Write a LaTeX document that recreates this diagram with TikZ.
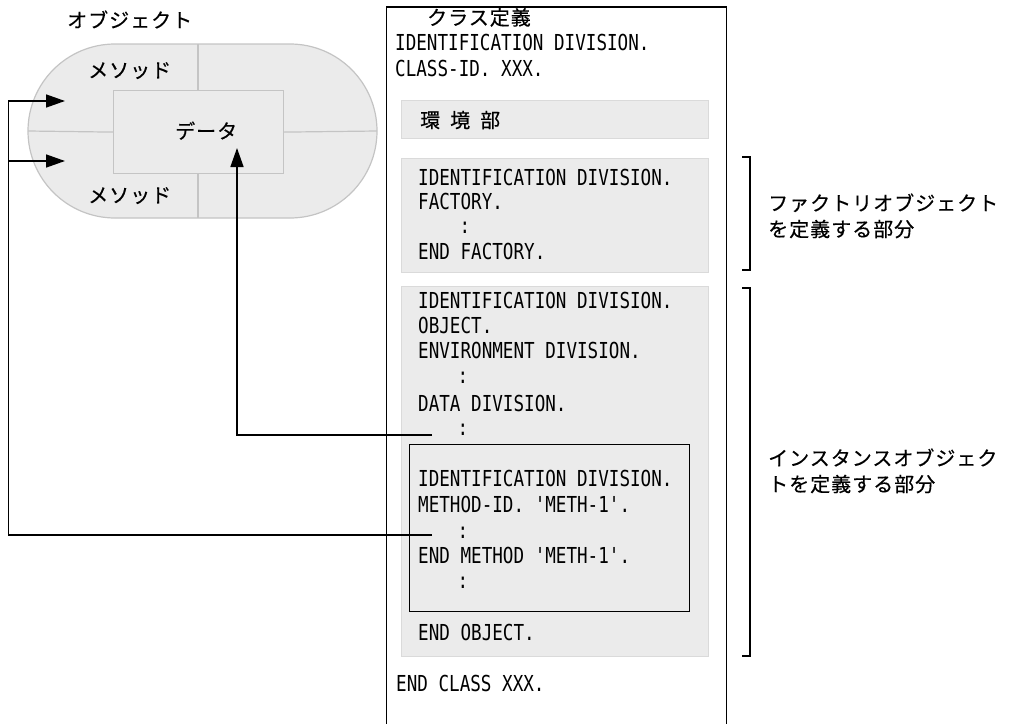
\documentclass[tikz,border=0pt]{standalone}
\usepackage{fontspec}
\usetikzlibrary{arrows.meta}
\newfontfamily\jpfont[LetterSpace=5,FakeBold=0.4]{Noto Sans CJK JP}
\newfontfamily\cobolfont[FakeStretch=0.80]{DejaVu Sans Mono}
\definecolor{shapefill}{HTML}{EBEBEB}
\definecolor{shapeline}{HTML}{C4C4C4}
\definecolor{boxline}{HTML}{DADADA}
\tikzset{
  jp/.style={font=\jpfont\fontsize{20}{23}\selectfont, inner sep=0pt, anchor=base west},
  cb/.style={font=\cobolfont\fontsize{22}{26}\selectfont, inner sep=0pt, anchor=base west},
  colon/.style={font=\cobolfont\fontsize{22}{26}\selectfont, inner sep=0pt, anchor=base},
  objpart/.style={draw=shapeline, fill=shapefill, line width=1.2pt},
  graybox/.style={draw=boxline, fill=shapefill, line width=1.2pt, inner sep=0pt, anchor=north west},
  conn/.style={draw=black, line width=1.5pt},
  arr/.style={conn, -{Triangle[length=19pt,width=13pt]}},
  bracket/.style={draw=black, line width=1.5pt},
}
\begin{document}
\begin{tikzpicture}[x=1pt,y=-1pt]
\useasboundingbox (0,0) rectangle (1012,723);
% ---------- object (left) ----------
\node[jp] (objlabel) at (67,27.6) {オブジェクト};
\draw[objpart, rounded corners=87pt] (28,44) rectangle (377,218);
\node[graybox, draw=shapeline, minimum width=170pt, minimum height=83pt] (data) at (113,90) {};
\draw[objpart] (28,131) -- (data.west);
\draw[objpart] (data.east) -- (377,131);
\draw[objpart] (198,44) -- (198,90);
\draw[objpart] (198,173) -- (198,218);
\node[jp] (meth1) at (88,77.6) {メソッド};
\node[jp] (meth2) at (88,202.6) {メソッド};
\node[jp] (datalabel) at (175,138.6) {データ};
% ---------- class definition ----------
\draw[line width=1.4pt] (386.5,730) -- (386.5,7) -- (726.5,7) -- (726.5,730);
\node[jp] (clsdef) at (427,25) {クラス定義};
\node[cb] (c1) at (395,50) {IDENTIFICATION DIVISION.};
\node[cb] (c2) at (395,76) {CLASS-ID. XXX.};
% environment
\node[graybox, minimum width=307pt, minimum height=38pt] (env) at (401,100) {};
\node[jp] (envlabel) at (420,127.6) {環\hspace{10pt}境\hspace{10pt}部};
% factory
\node[graybox, minimum width=307pt, minimum height=114pt] (factory) at (401,158) {};
\node[cb] (f1) at (418,185) {IDENTIFICATION DIVISION.};
\node[cb] (f2) at (418,209) {FACTORY.};
\node[colon] (f3) at (465,233) {:};
\node[cb] (f4) at (418,259.5) {END FACTORY.};
% object
\node[graybox, minimum width=307pt, minimum height=370pt] (object) at (401,286) {};
\node[cb] (o1) at (418,308) {IDENTIFICATION DIVISION.};
\node[cb] (o2) at (418,333) {OBJECT.};
\node[cb] (o3) at (418,358) {ENVIRONMENT DIVISION.};
\node[colon] (o4) at (463,383.5) {:};
\node[cb] (o5) at (418,411) {DATA DIVISION.};
\node[colon] (o6) at (463,435.5) {:};
% method (inner box)
\node[draw=black, line width=1.4pt, inner sep=0pt, anchor=north west, minimum width=280pt, minimum height=167pt] (method) at (409,444) {};
\node[cb] (m1) at (418,486) {IDENTIFICATION DIVISION.};
\node[cb] (m2) at (418,512) {METHOD-ID. 'METH-1'.};
\node[colon] (m3) at (463,538.5) {:};
\node[cb] (m4) at (418,563) {END METHOD 'METH-1'.};
\node[colon] (m5) at (463,588.5) {:};
\node[cb] (o7) at (418,640) {END OBJECT.};
\node[cb] (c3) at (396,691) {END CLASS XXX.};
% ---------- brackets and labels ----------
\draw[bracket] (742,157) -- (750,157) -- (750,270) -- (742,270);
\draw[bracket] (742,288) -- (750,288) -- (750,656) -- (742,656);
\node[jp] (flabel1) at (768,210.6) {ファクトリオブジェクト};
\node[jp] (flabel2) at (768,236.6) {を定義する部分};
\node[jp] (ilabel1) at (768,465.6) {インスタンスオブジェク};
\node[jp] (ilabel2) at (768,491.6) {トを定義する部分};
% ---------- connectors ----------
\coordinate (datasrc) at (432,435);
\coordinate (datatip) at (237,148);
\draw[arr] (datasrc) -- (datatip |- datasrc) -- (datatip);
\coordinate (methsrc) at (432,535);
\coordinate (corner) at (8.5,535);
\coordinate (tip1) at (65,101);
\coordinate (tip2) at (65,161);
\draw[arr] (methsrc) -- (corner) -- (corner |- tip1) -- (tip1);
\draw[arr] (corner |- tip2) -- (tip2);
\end{tikzpicture}
\end{document}
